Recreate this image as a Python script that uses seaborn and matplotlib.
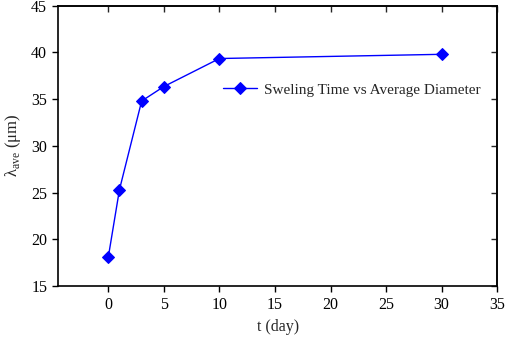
import matplotlib
matplotlib.use("Agg")
import matplotlib.pyplot as plt
import seaborn as sns
import pandas as pd

t_day = [0, 1, 3, 5, 10, 30]
diameter = [18.1, 25.3, 34.8, 36.35, 39.35, 39.8]
series_label = "Sweling Time vs Average Diameter"
x_ticks = [0, 5, 10, 15, 20, 25, 30, 35]
y_ticks = [15, 20, 25, 30, 35, 40, 45]

sns.set_theme(style="white")
plt.rcParams["font.family"] = ["Liberation Serif", "DejaVu Serif"]
plt.rcParams["mathtext.fontset"] = "custom"
plt.rcParams["mathtext.rm"] = "Liberation Serif"

df = pd.DataFrame({"t": t_day, "d": diameter})

fig = plt.figure(figsize=(5.05, 3.38), dpi=100)
ax = fig.add_axes([0.1155, 0.154, 0.869, 0.829])

sns.lineplot(data=df, x="t", y="d", ax=ax, color="#0000ff", marker="D",
             markersize=6.5, markeredgecolor="#0000ff", linewidth=1.0,
             label=series_label)

ax.set_xlim(-4.5, 35)
ax.set_ylim(15, 45)
ax.set_xticks(x_ticks)
ax.set_yticks(y_ticks)
ax.tick_params(axis="both", direction="out", length=4.5, width=1, labelsize=11.5,
               colors="black", bottom=True, left=True)
for s in ax.spines.values():
    s.set_color("black")
    s.set_linewidth(1.2)

top = ax.secondary_xaxis("top")
top.set_xticks(x_ticks)
top.tick_params(direction="in", length=4.5, width=1)
top.set_xticklabels([])
right = ax.secondary_yaxis("right")
right.set_yticks(y_ticks)
right.tick_params(direction="in", length=4.5, width=1)
right.set_yticklabels([])

ax.set_xlabel("t (day)", fontsize=11.5)
ax.set_ylabel("λ$_{\\rm ave}$ (μm)", fontsize=12)
ax.xaxis.set_label_coords(0.5, -0.118)
ax.yaxis.set_label_coords(-0.08, 0.5)

ax.legend(loc="center left", bbox_to_anchor=(0.375, 0.70), frameon=False,
          fontsize=11, borderpad=0, borderaxespad=0, handlelength=2.2,
          handletextpad=0.5)

fig.savefig("out.png", dpi=100)
